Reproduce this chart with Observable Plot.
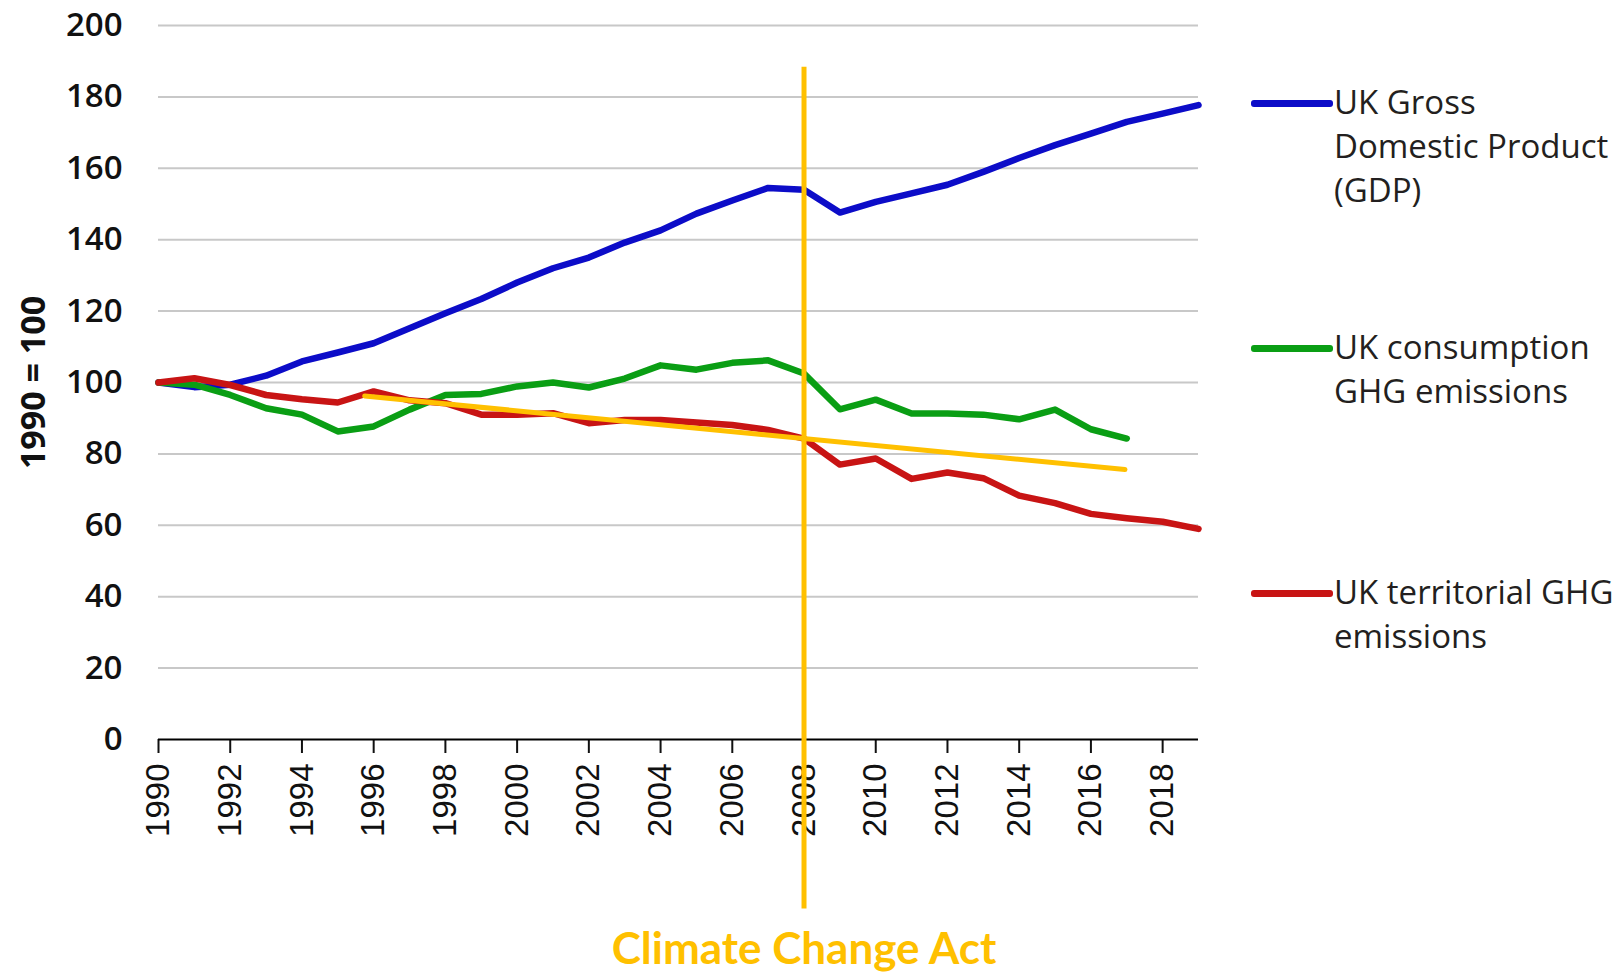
<!DOCTYPE html>
<html><head><meta charset="utf-8">
<script src="https://cdn.jsdelivr.net/npm/d3@7"></script>
<script src="https://cdn.jsdelivr.net/npm/@observablehq/plot@0.6"></script>
<style>
html,body{margin:0;padding:0;background:#fff;}
#wrap{position:relative;width:1619px;height:973px;overflow:hidden;background:#fff;}
.sw{position:absolute;height:7px;width:82px;border-radius:3px;}
.tx{position:absolute;font-family:"Open Sans",sans-serif;font-size:33px;line-height:44px;color:#231f20;white-space:nowrap;}
</style></head><body><div id="wrap"></div>
<script>
// ---- data ----
const years = [1990,1991,1992,1993,1994,1995,1996,1997,1998,1999,2000,2001,2002,2003,2004,2005,2006,2007,2008,2009,2010,2011,2012,2013,2014,2015,2016,2017,2018,2019];
const gdp = [100,98.7,99.4,101.9,105.9,108.4,111,115.2,119.4,123.4,128,132,135,139.2,142.6,147.3,151,154.5,154,147.6,150.6,153,155.4,159,162.9,166.5,169.7,173,175.3,177.7];
const consumption = [100,99.4,96.5,92.8,91,86.3,87.7,92.4,96.5,96.8,98.9,100,98.6,101.1,104.8,103.6,105.5,106.2,102.5,92.5,95.2,91.3,91.3,91,89.7,92.4,86.9,84.3];
const territorial = [100,101.2,99.3,96.5,95.3,94.4,97.5,95,94.2,91,91,91.4,88.6,89.5,89.5,88.8,88.1,86.7,84.3,77,78.7,73,74.8,73.2,68.3,66.2,63.2,62,61,59];
const trendYears = [1995.75, 2016.95];
const trendValues = [96.2, 75.6];
const actYear = [2008];
const actSpan = [-47.5, 188.3];
const actLabel = ["Climate Change Act"];
const yTicks = [0,20,40,60,80,100,120,140,160,180,200];
const yGrid = [20,40,60,80,100,120,140,160,180,200];
const xTicks = [1990,1992,1994,1996,1998,2000,2002,2004,2006,2008,2010,2012,2014,2016,2018];
const seriesNames = [["UK Gross","Domestic Product","(GDP)"],["UK consumption","GHG emissions"],["UK territorial GHG","emissions"]];
const seriesColors = ["#0c0cc8","#0a9e14","#c81414"];
const actColor = "#FFC000";
const yTitle = "1990 = 100";

// ---- tables ----
const toRows = vals => vals.map((v,i) => ({year: years[i], value: v}));
const gdpRows = toRows(gdp), conRows = toRows(consumption), terRows = toRows(territorial);
const trendRows = trendYears.map((y,i) => ({year: y, value: trendValues[i]}));
const actRows = actYear.map((y,i) => ({year: y, label: actLabel[i], y1: actSpan[0], y2: actSpan[1]}));

const lineOpts = (c) => ({x:"year", y:"value", stroke:c, strokeWidth:6.5, strokeLinejoin:"round", strokeLinecap:"round"});

const chart = Plot.plot({
  width: 1619, height: 973,
  marginLeft: 158, marginRight: 421, marginTop: 25, marginBottom: 234,
  x: {domain: [1990, 2019]},
  y: {domain: [0, 200]},
  style: {background: "#fff", color: "#111", overflow: "visible"},
  marks: [
    Plot.gridY(yGrid, {stroke:"#c8c8c8", strokeOpacity:1, strokeWidth:2}),
    Plot.axisY(yTicks, {tickSize:0, tickPadding:36, fontSize:33, fontWeight:600, fontFamily:"Open Sans", label:null}),
    Plot.axisX(xTicks, {tickSize:14, tickPadding:10, tickRotate:-90, tickFormat:d=>String(d), fontSize:33, fontFamily:"Liberation Sans", label:null, strokeWidth:2}),
    Plot.ruleY([0], {stroke:"#000", strokeWidth:2}),
    Plot.line(gdpRows, lineOpts(seriesColors[0])),
    Plot.line(conRows, lineOpts(seriesColors[1])),
    Plot.line(terRows, lineOpts(seriesColors[2])),
    Plot.line(trendRows, {x:"year", y:"value", stroke:actColor, strokeWidth:5}),
    Plot.ruleX(actRows, {x:"year", y1:"y1", y2:"y2", stroke:actColor, strokeWidth:5}),
    Plot.text(actRows, {x:"year", text:"label", frameAnchor:"bottom", dy:210, fill:actColor, fontSize:44, fontWeight:700, fontFamily:"Lato", textAnchor:"middle", lineAnchor:"middle"}),
    Plot.text([yTitle], {text:d=>d, frameAnchor:"left", dx:-124, rotate:-90, textAnchor:"middle", lineAnchor:"middle", fontSize:34, fontWeight:700, fontFamily:"Open Sans", fill:"#111"})
  ]
});
const wrap = document.getElementById("wrap");
wrap.appendChild(chart);

// ---- legend (HTML) ----
const legendY = [103, 348, 593];
seriesNames.forEach((lines, i) => {
  const sw = document.createElement("div");
  sw.className = "sw";
  sw.style.left = "1251px";
  sw.style.top = (legendY[i] - 3) + "px";
  sw.style.background = seriesColors[i];
  wrap.appendChild(sw);
  const tx = document.createElement("div");
  tx.className = "tx";
  tx.style.left = "1334px";
  tx.style.top = (legendY[i] - 23) + "px";
  tx.innerHTML = lines.join("<br>");
  wrap.appendChild(tx);
});
</script></body></html>
